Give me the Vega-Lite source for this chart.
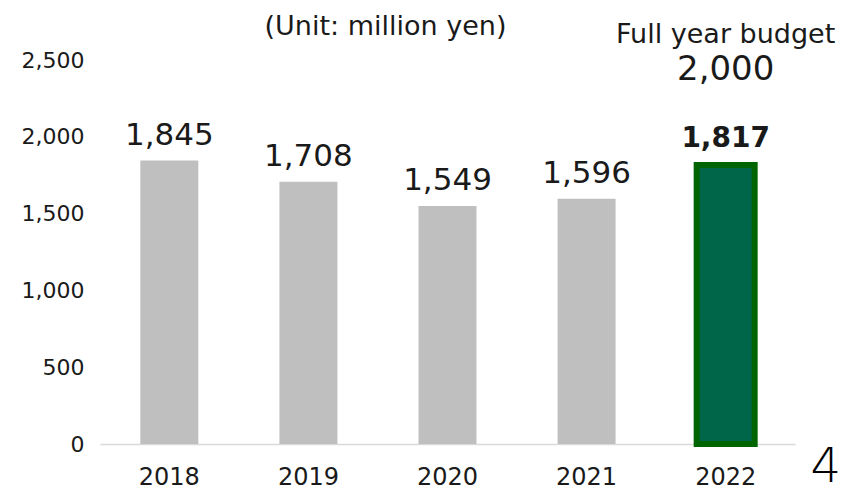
{
  "$schema": "https://vega.github.io/schema/vega-lite/v6.json",
  "width": 695,
  "height": 384,
  "autosize": "none",
  "padding": {"left": 100, "top": 60, "right": 47, "bottom": 46},
  "background": "white",
  "config": {"view": {"stroke": null}, "font": "DejaVu Sans"},
  "datasets": {
    "bars": [
      {"year": "2018", "value": 1845, "label": "1,845", "current": false},
      {"year": "2019", "value": 1708, "label": "1,708", "current": false},
      {"year": "2020", "value": 1549, "label": "1,549", "current": false},
      {"year": "2021", "value": 1596, "label": "1,596", "current": false},
      {"year": "2022", "value": 1817, "label": "1,817", "current": true}
    ],
    "notes": [
      {"year": "2022", "pos": 2663, "text": "Full year budget", "size": 27},
      {"year": "2022", "pos": 2435, "text": "2,000", "size": 34}
    ],
    "unit": [{"year": "2020", "pos": 2712, "text": "(Unit: million yen)"}],
    "page": [{"year": "2022", "pos": 0, "text": "4"}]
  },
  "resolve": {"scale": {"y": "shared"}},
  "layer": [
    {
      "data": {"name": "bars"},
      "mark": {"type": "bar"},
      "encoding": {
        "x": {"field": "year", "type": "nominal", "sort": null,
          "scale": {"paddingInner": 0.583, "paddingOuter": 0.29},
          "axis": {"title": null, "labelAngle": 0, "labelFontSize": 24, "labelColor": "#1a1a1a", "labelPadding": 21, "ticks": false, "domainColor": "#d9d9d9", "domainWidth": 1.5}},
        "y": {"field": "value", "type": "quantitative",
          "scale": {"domain": [0, 2500], "nice": false},
          "axis": {"title": null, "values": [0, 500, 1000, 1500, 2000, 2500], "format": ",d", "grid": false, "domain": false, "ticks": false, "labelFontSize": 22, "labelColor": "#1a1a1a", "labelPadding": 16}},
        "color": {"field": "current", "type": "nominal", "scale": {"domain": [false, true], "range": ["#bfbfbf", "#00664a"]}, "legend": null},
        "stroke": {"field": "current", "type": "nominal", "scale": {"domain": [false, true], "range": ["#bfbfbf", "#006400"]}, "legend": null},
        "strokeWidth": {"field": "current", "type": "nominal", "scale": {"domain": [false, true], "range": [0, 6]}, "legend": null}
      }
    },
    {
      "data": {"name": "bars"},
      "transform": [{"filter": "!datum.current"}],
      "mark": {"type": "text", "baseline": "alphabetic", "dy": -16, "fontSize": 31, "color": "#1a1a1a"},
      "encoding": {
        "x": {"field": "year", "type": "nominal", "sort": null},
        "y": {"field": "value", "type": "quantitative", "scale": {"domain": [0, 2500], "nice": false}},
        "text": {"field": "label"}
      }
    },
    {
      "data": {"name": "bars"},
      "transform": [{"filter": "datum.current"}],
      "mark": {"type": "text", "baseline": "alphabetic", "dy": -18, "fontSize": 28, "fontWeight": "bold", "color": "#1a1a1a"},
      "encoding": {
        "x": {"field": "year", "type": "nominal", "sort": null},
        "y": {"field": "value", "type": "quantitative", "scale": {"domain": [0, 2500], "nice": false}},
        "text": {"field": "label"}
      }
    },
    {
      "data": {"name": "notes"},
      "mark": {"type": "text", "baseline": "middle", "color": "#1a1a1a"},
      "encoding": {
        "x": {"field": "year", "type": "nominal", "sort": null},
        "y": {"field": "pos", "type": "quantitative", "scale": {"domain": [0, 2500], "nice": false}},
        "text": {"field": "text"},
        "size": {"field": "size", "type": "quantitative", "scale": null}
      }
    },
    {
      "data": {"name": "unit"},
      "mark": {"type": "text", "baseline": "middle", "dx": -62, "fontSize": 27, "color": "#1a1a1a"},
      "encoding": {
        "x": {"field": "year", "type": "nominal", "sort": null},
        "y": {"field": "pos", "type": "quantitative", "scale": {"domain": [0, 2500], "nice": false}},
        "text": {"field": "text"}
      }
    },
    {
      "data": {"name": "page"},
      "mark": {"type": "text", "baseline": "middle", "dx": 100, "dy": 24, "fontSize": 48, "fontWeight": 200, "color": "#000000"},
      "encoding": {
        "x": {"field": "year", "type": "nominal", "sort": null},
        "y": {"field": "pos", "type": "quantitative", "scale": {"domain": [0, 2500], "nice": false}},
        "text": {"field": "text"}
      }
    }
  ]
}
